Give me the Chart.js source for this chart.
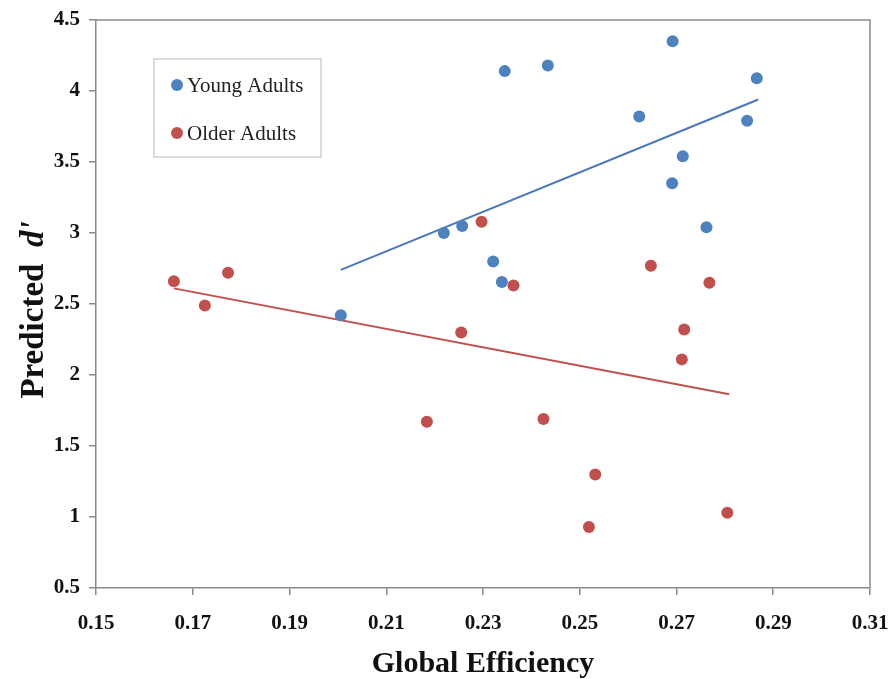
<!DOCTYPE html>
<html>
<head>
<meta charset="utf-8">
<script src="https://cdn.jsdelivr.net/npm/chart.js@4.4.1/dist/chart.umd.min.js"></script>
<style>
    html, body { margin: 0; padding: 0; background: #fff; }
    #wrap { width: 890px; height: 679px; position: relative; }
</style>
</head>
<body>
<div id="wrap"><canvas id="chart"></canvas></div>
<script>
// Young adults: global efficiency vs predicted d'
const youngX = [0.2006, 0.2219, 0.2257, 0.2321, 0.2339, 0.2345, 0.2434, 0.2623, 0.2692, 0.2691, 0.2713, 0.2762, 0.2846, 0.2866];
const youngY = [2.42, 3.00, 3.05, 2.80, 2.655, 4.14, 4.18, 3.82, 4.35, 3.35, 3.54, 3.04, 3.79, 4.09];

// Older adults
const olderX = [0.1661, 0.1725, 0.1773, 0.2184, 0.2255, 0.2297, 0.2363, 0.2425, 0.2532, 0.2519, 0.2647, 0.2716, 0.2711, 0.2768, 0.2805];
const olderY = [2.66, 2.49, 2.72, 1.67, 2.30, 3.08, 2.63, 1.69, 1.30, 0.93, 2.77, 2.32, 2.11, 2.65, 1.03];

// fitted trend lines (end points)
const youngFitX = [0.2006, 0.2869];
const youngFitY = [2.74, 3.94];
const olderFitX = [0.1661, 0.2809];
const olderFitY = [2.61, 1.865];

const xTicks = [0.15, 0.17, 0.19, 0.21, 0.23, 0.25, 0.27, 0.29, 0.31];
const yTicks = [0.5, 1, 1.5, 2, 2.5, 3, 3.5, 4, 4.5];

const BLUE = "#4F81BD";
const RED = "#C0504D";
const AXIS = "#8a8a8a";

const toPoints = (xs, ys) => xs.map((x, i) => ({ x, y: ys[i] }));

// box round the plot, like the Excel original
const frame = {
    id: "frame",
    afterDatasetsDraw(chart) {
        const { ctx, chartArea: a } = chart;
        ctx.save();
        ctx.strokeStyle = AXIS;
        ctx.lineWidth = 1.5;
        ctx.beginPath();
        ctx.moveTo(a.left, a.top);
        ctx.lineTo(a.right, a.top);
        ctx.lineTo(a.right, a.bottom);
        ctx.stroke();
        ctx.restore();
    },
};

// legend box inside the plot
const boxLegend = {
    id: "boxLegend",
    afterDraw(chart) {
        const ctx = chart.ctx;
        const x0 = 154, y0 = 59, w = 167, h = 98;
        ctx.save();
        ctx.fillStyle = "#fff";
        ctx.strokeStyle = "#cfcfcf";
        ctx.lineWidth = 1.5;
        ctx.fillRect(x0, y0, w, h);
        ctx.strokeRect(x0, y0, w, h);
        const entries = chart.data.datasets.filter(d => d.inLegend);
        entries.forEach((d, i) => {
            const cy = 85 + i * 48;
            ctx.fillStyle = d.backgroundColor;
            ctx.beginPath();
            ctx.arc(177, cy, 6, 0, Math.PI * 2);
            ctx.fill();
            ctx.fillStyle = "#222";
            ctx.font = "21px 'Liberation Serif', serif";
            ctx.textBaseline = "middle";
            ctx.textAlign = "left";
            ctx.fillText(d.label, 187, cy + 1);
        });
        ctx.restore();
    },
};

// y title with italic d'
const yTitle = {
    id: "yTitle",
    afterDraw(chart) {
        const ctx = chart.ctx;
        const main = "Predicted  ";
        const it = "d'";
        ctx.save();
        ctx.translate(34, 310);
        ctx.rotate(-Math.PI / 2);
        ctx.fillStyle = "#111";
        ctx.textBaseline = "middle";
        ctx.font = "bold 33px 'Liberation Serif', serif";
        const w1 = ctx.measureText(main).width;
        ctx.font = "bold italic 33px 'Liberation Serif', serif";
        const w2 = ctx.measureText(it).width;
        let start = -(w1 + w2) / 2;
        ctx.font = "bold 33px 'Liberation Serif', serif";
        ctx.textAlign = "left";
        ctx.fillText(main, start, 0);
        ctx.font = "bold italic 33px 'Liberation Serif', serif";
        ctx.fillText(it, start + w1, 0);
        ctx.restore();
    },
};

const tickFont = { family: "'Liberation Serif', serif", size: 21, weight: "bold" };

new Chart(document.getElementById("chart"), {
    type: "scatter",
    data: {
        datasets: [
            {
                label: "Young Adults",
                inLegend: true,
                data: toPoints(youngX, youngY),
                backgroundColor: BLUE,
                borderColor: BLUE,
                pointRadius: 6,
                pointBorderWidth: 0,
            },
            {
                label: "Older Adults",
                inLegend: true,
                data: toPoints(olderX, olderY),
                backgroundColor: RED,
                borderColor: RED,
                pointRadius: 6,
                pointBorderWidth: 0,
            },
            {
                label: "Young fit",
                data: toPoints(youngFitX, youngFitY),
                showLine: true,
                borderColor: "#4A78B8",
                borderWidth: 2,
                pointRadius: 0,
            },
            {
                label: "Older fit",
                data: toPoints(olderFitX, olderFitY),
                showLine: true,
                borderColor: "#C0504D",
                borderWidth: 2,
                pointRadius: 0,
            },
        ],
    },
    options: {
        responsive: true,
        maintainAspectRatio: false,
        animation: false,
        layout: { padding: { top: 20, right: 20, left: 0, bottom: 0 } },
        plugins: { legend: { display: false }, tooltip: { enabled: false } },
        scales: {
            x: {
                type: "linear",
                min: 0.15,
                max: 0.31,
                afterBuildTicks: s => { s.ticks = xTicks.map(v => ({ value: v })); },
                afterFit: s => { s.height = 91; s.paddingLeft = 0; s.paddingRight = 0; },
                ticks: {
                    color: "#111",
                    font: tickFont,
                    padding: 16,
                    maxRotation: 0,
                    callback: v => v.toFixed(2),
                },
                grid: { drawOnChartArea: false, tickLength: 7, color: AXIS, lineWidth: 1.5 },
                border: { color: AXIS, width: 1.5 },
                title: {
                    display: true,
                    text: "Global Efficiency",
                    color: "#111",
                    font: { family: "'Liberation Serif', serif", size: 30, weight: "bold", lineHeight: 1 },
                    padding: { top: 0, bottom: 0 },
                },
            },
            y: {
                type: "linear",
                min: 0.5,
                max: 4.5,
                afterBuildTicks: s => { s.ticks = yTicks.map(v => ({ value: v })); },
                afterFit: s => { s.width = 96; s.paddingTop = 0; s.paddingBottom = 0; },
                ticks: {
                    color: "#111",
                    font: tickFont,
                    padding: 9,
                    callback: v => String(v),
                },
                grid: { drawOnChartArea: false, tickLength: 7, color: AXIS, lineWidth: 1.5 },
                border: { color: AXIS, width: 1.5 },
            },
        },
    },
    plugins: [frame, boxLegend, yTitle],
});
</script>
</body>
</html>
